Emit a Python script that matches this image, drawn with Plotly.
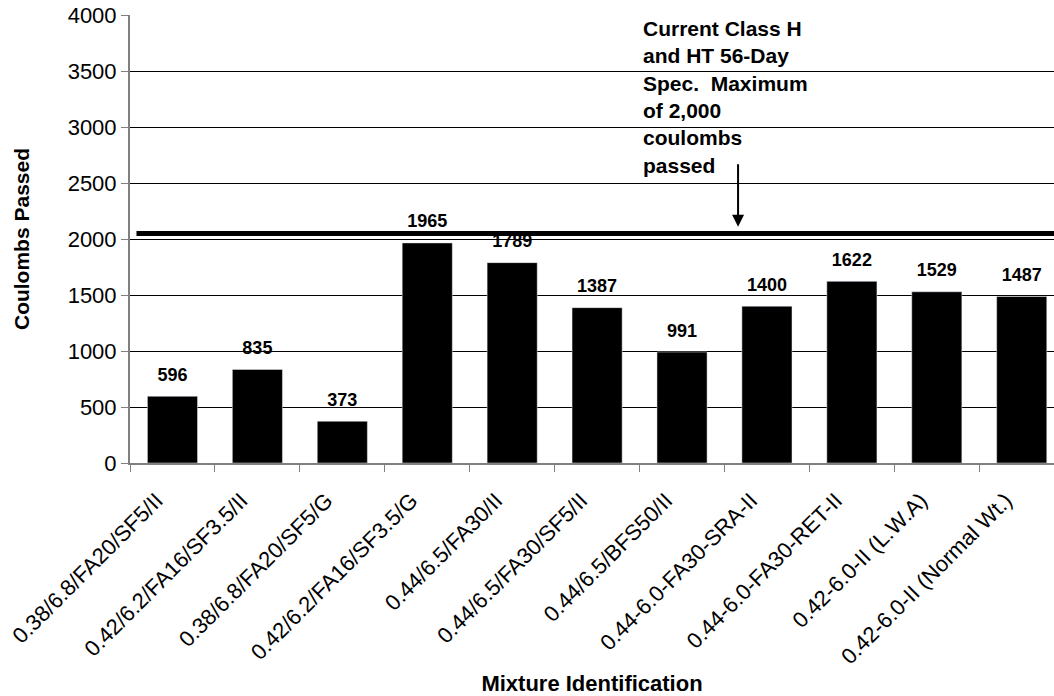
import plotly.graph_objects as go

# mixture ids and rapid chloride permeability results (56-day)
mixtures = ["0.38/6.8/FA20/SF5/II", "0.42/6.2/FA16/SF3.5/II", "0.38/6.8/FA20/SF5/G",
            "0.42/6.2/FA16/SF3.5/G", "0.44/6.5/FA30/II", "0.44/6.5/FA30/SF5/II",
            "0.44/6.5/BFS50/II", "0.44-6.0-FA30-SRA-II", "0.44-6.0-FA30-RET-II",
            "0.42-6.0-II (L.W.A)", "0.42-6.0-II (Normal Wt.)"]
coulombs = [596, 835, 373, 1965, 1789, 1387, 991, 1400, 1622, 1529, 1487]
spec_limit = 2050
note = "Current Class H<br>and HT 56-Day<br>Spec.  Maximum<br>of 2,000<br>coulombs<br>passed"

fig = go.Figure()
fig.add_trace(go.Bar(x=mixtures, y=coulombs, marker_color="black", hoverinfo="skip"))

# value labels: invisible markers push the text up off the bar top,
# and being a trace they stay under the spec line like in excel
fig.add_trace(go.Scatter(x=mixtures, y=coulombs, mode="markers+text",
                         marker=dict(size=16, opacity=0),
                         text=[str(v) for v in coulombs], textposition="top center",
                         textfont=dict(size=18, color="black", family="Arial", weight="bold"),
                         cliponaxis=False, hoverinfo="skip"))

# spec line
fig.add_shape(type="line", xref="paper", yref="y", x0=0.007, x1=1,
              y0=spec_limit, y1=spec_limit, line=dict(color="black", width=5))

# label and arrow
fig.add_annotation(x=5.52, y=1.0, xref="x", yref="paper", text=note, showarrow=False,
                   xanchor="left", yanchor="top", align="left",
                   font=dict(size=21, color="black", family="Arial", weight="bold"))
fig.add_annotation(x=6.66, y=2110, ax=6.66, ay=2680, xref="x", yref="y",
                   axref="x", ayref="y", text="", showarrow=True,
                   arrowhead=2, arrowsize=1.2, arrowwidth=2, arrowcolor="black")

fig.update_layout(
    width=1054, height=696,
    margin=dict(l=130, r=0, t=15, b=233),
    plot_bgcolor="white", paper_bgcolor="white",
    bargap=0.41, showlegend=False,
    font=dict(family="Arial", color="black"),
)
fig.update_xaxes(type="category", range=[-0.5, 10.38], tickson="boundaries",
                 ticks="outside", ticklen=7, tickcolor="#808080",
                 showline=True, linecolor="#808080", linewidth=2,
                 tickangle=-45, tickfont=dict(size=22, family="Arial"),
                 ticklabelshift=-16, ticklabelstandoff=14,
                 title=dict(text="Mixture Identification", standoff=11,
                            font=dict(size=22, family="Arial", weight="bold")),
                 automargin=False)
fig.update_yaxes(range=[0, 4000], dtick=500, showgrid=True, gridcolor="black",
                 gridwidth=1, ticks="outside", ticklen=7, tickcolor="#808080",
                 showline=True, linecolor="#808080", linewidth=2, zeroline=False,
                 tickfont=dict(size=22, family="Arial"),
                 title=dict(text="Coulombs Passed", standoff=32,
                            font=dict(size=21, family="Arial", weight="bold")),
                 automargin=False)

# drop the default body margin so the chart sits at the window corner
fig.write_html("out.html", config={"displayModeBar": False},
               post_script="document.body.style.margin='0px';")
